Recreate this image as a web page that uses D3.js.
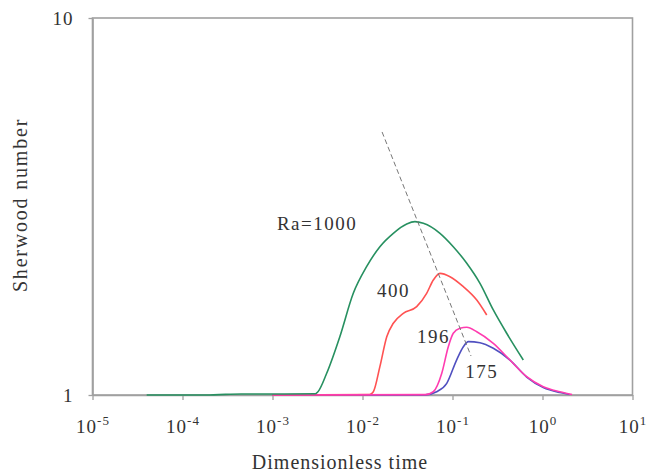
<!DOCTYPE html>
<html>
<head>
<meta charset="utf-8">
<script src="https://cdn.jsdelivr.net/npm/d3@7"></script>
<style>
  html, body { margin: 0; padding: 0; background: #fff; }
  svg text { font-family: "Liberation Serif", "DejaVu Serif", serif; fill: #333; }
</style>
</head>
<body>
<svg id="chart" width="649" height="476"></svg>
<script>
// ---- data ----
const xTickExps = [-5, -4, -3, -2, -1, 0, 1];
const yTicks = [1, 10];

const ra1000T  = [4e-5, 2e-4, 3e-4, 4.5e-4, 1e-3, 3e-3, 3.2e-3, 4.0e-3, 5.6e-3, 7.9e-3, 0.0111, 0.0156, 0.022, 0.031, 0.0383, 0.0474, 0.0726, 0.102, 0.144, 0.202, 0.284, 0.40, 0.612];
const ra1000Sh = [1.0, 1.0, 1.004, 1.006, 1.006, 1.008, 1.02, 1.142, 1.428, 1.861, 2.189, 2.474, 2.685, 2.842, 2.883, 2.854, 2.685, 2.474, 2.236, 1.978, 1.681, 1.458, 1.238];

const ra400T  = [1e-3, 0.012, 0.0132, 0.0156, 0.0186, 0.022, 0.0284, 0.040, 0.0516, 0.0612, 0.0726, 0.0938, 0.132, 0.186, 0.24];
const ra400Sh = [1.0, 1.003, 1.02, 1.189, 1.428, 1.55, 1.647, 1.715, 1.861, 2.018, 2.102, 2.06, 1.938, 1.786, 1.63];

const ra196T  = [1e-3, 0.05, 0.0612, 0.076, 0.0898, 0.102, 0.121, 0.144, 0.186, 0.284, 0.435, 0.667, 1.02, 1.56, 2.13];
const ra196Sh = [1.0, 1.002, 1.02, 1.142, 1.343, 1.458, 1.503, 1.512, 1.472, 1.371, 1.238, 1.118, 1.052, 1.02, 1.003];

const ra175T  = [1e-3, 0.05, 0.0667, 0.0863, 0.111, 0.132, 0.15, 0.202, 0.284, 0.435, 0.667, 1.02, 1.56, 2.0];
const ra175Sh = [1.0, 1.001, 1.02, 1.074, 1.238, 1.343, 1.385, 1.376, 1.33, 1.238, 1.116, 1.047, 1.015, 1.003];

const peakLineT  = [0.0165, 0.1606];
const peakLineSh = [4.985, 1.269];

const seriesNames = ["Ra=1000", "400", "196", "175"];
const labelT  = [1.12e-3, 0.0145, 0.0403, 0.139];
const labelSh = [2.74, 1.82, 1.374, 1.109];

// ---- layout ----
const svg = d3.select("#chart");
const mLeft = 92.5, mRight = 632.5, mTop = 18, mBottom = 395;

const x = d3.scaleLog().domain([1e-5, 10]).range([mLeft, mRight]);
const y = d3.scaleLog().domain([1, 10]).range([mBottom, mTop]);

const axisColor = "#a0a0a0";

// frame
svg.append("rect")
  .attr("x", mLeft).attr("y", mTop)
  .attr("width", mRight - mLeft).attr("height", mBottom - mTop)
  .attr("fill", "none").attr("stroke", axisColor).attr("stroke-width", 1.6);

// x axis ticks & labels
const xAxis = d3.axisBottom(x)
  .tickValues(xTickExps.map(e => Math.pow(10, e)))
  .tickSize(5)
  .tickSizeOuter(0)
  .tickFormat(() => "");
const gx = svg.append("g").attr("transform", `translate(0,${mBottom})`).call(xAxis);
gx.select(".domain").attr("stroke", axisColor).attr("stroke-width", 1.6);
gx.selectAll(".tick line").attr("stroke", axisColor).attr("stroke-width", 1.3);
gx.selectAll(".tick").each(function(d, i) {
  const t = d3.select(this).append("text")
    .attr("y", 38)
    .attr("text-anchor", "middle")
    .attr("font-size", 19)
    .attr("fill", "#333")
    .style("letter-spacing", "1px");
  t.append("tspan").text("10");
  t.append("tspan").attr("dy", -8).attr("font-size", 13).text(String(xTickExps[i]));
});

// y axis ticks & labels
const yAxis = d3.axisLeft(y)
  .tickValues(yTicks)
  .tickSize(4)
  .tickSizeOuter(0)
  .tickFormat(() => "");
const gy = svg.append("g").attr("transform", `translate(${mLeft},0)`).call(yAxis);
gy.select(".domain").attr("stroke", axisColor).attr("stroke-width", 1.6);
gy.selectAll(".tick line").attr("stroke", axisColor).attr("stroke-width", 1.3);
gy.selectAll(".tick").append("text")
  .attr("x", -19)
  .attr("dy", "0.35em")
  .attr("text-anchor", "end")
  .attr("font-size", 19)
  .attr("fill", "#333")
  .style("letter-spacing", "1px")
  .text(d => String(d));

// axis titles
svg.append("text")
  .attr("x", 340).attr("y", 469)
  .attr("text-anchor", "middle")
  .attr("font-size", 20)
  .style("letter-spacing", "1px")
  .text("Dimensionless time");
svg.append("text")
  .attr("transform", "translate(27,205) rotate(-90)")
  .attr("text-anchor", "middle")
  .attr("font-size", 20)
  .style("letter-spacing", "1.8px")
  .text("Sherwood number");

// curves
const line = d3.line().x(d => x(d[0])).y(d => y(d[1])).curve(d3.curveMonotoneX);
const zipS = (ts, ss) => ts.map((t, i) => [t, ss[i]]);

const series = [
  { t: ra175T,  s: ra175Sh,  color: "#5050c0" },
  { t: ra400T,  s: ra400Sh,  color: "#ff5252" },
  { t: ra196T,  s: ra196Sh,  color: "#ff3cb0" },
  { t: ra1000T, s: ra1000Sh, color: "#279060" }
];
series.forEach(sr => {
  svg.append("path")
    .datum(zipS(sr.t, sr.s))
    .attr("d", line)
    .attr("fill", "none")
    .attr("stroke", sr.color)
    .attr("stroke-width", 1.6)
    .attr("stroke-linejoin", "round");
});

// dashed peak trend line
svg.append("path")
  .datum(zipS(peakLineT, peakLineSh))
  .attr("d", d3.line().x(d => x(d[0])).y(d => y(d[1])))
  .attr("fill", "none")
  .attr("stroke", "#777")
  .attr("stroke-width", 1)
  .attr("stroke-dasharray", "5,3");

// curve labels
seriesNames.forEach((name, i) => {
  svg.append("text")
    .attr("x", x(labelT[i])).attr("y", y(labelSh[i]))
    .attr("font-size", 19)
    .style("letter-spacing", "1.5px")
    .text(name);
});
</script>
</body>
</html>
